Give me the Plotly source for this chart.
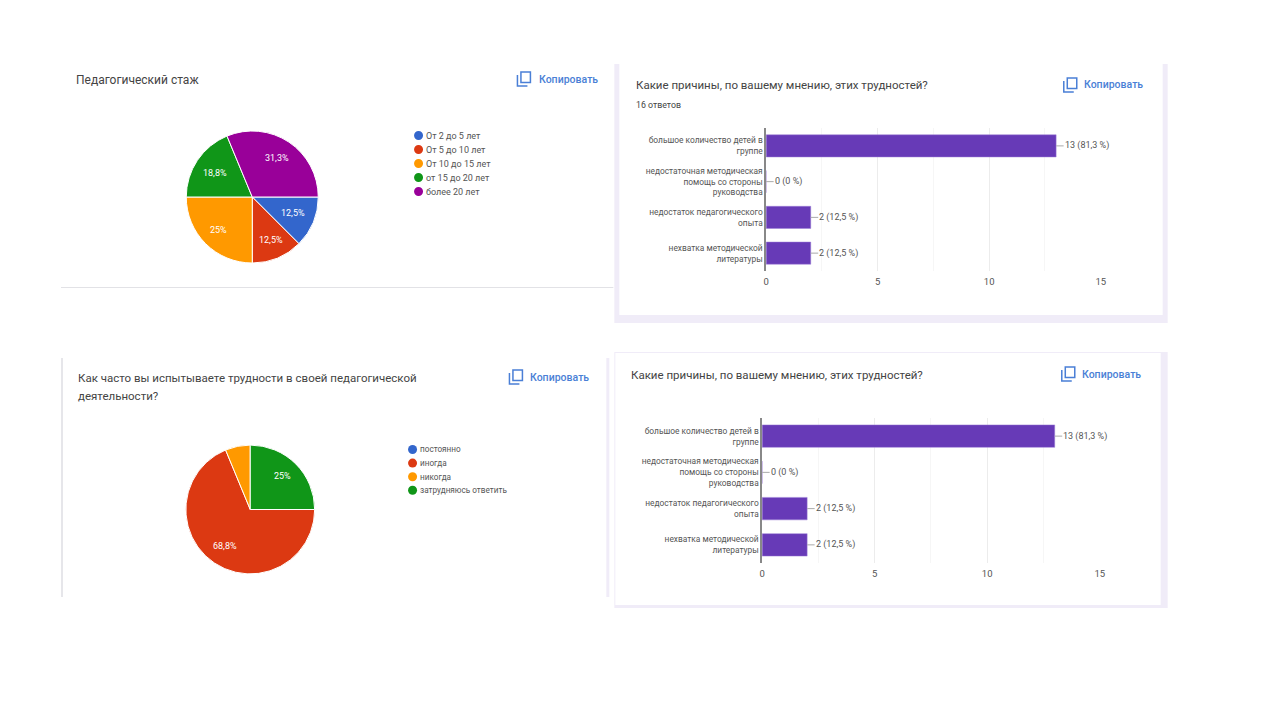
import plotly.graph_objects as go

# Pie data
stage_labels = ["От 2 до 5 лет", "От 5 до 10 лет", "От 10 до 15 лет", "от 15 до 20 лет", "более 20 лет"]
stage_values = [2, 2, 4, 3, 5]
stage_text = ["12,5%", "12,5%", "25%", "18,8%", "31,3%"]
stage_colors = ["#3366cc", "#dc3912", "#ff9900", "#109618", "#990099"]

freq_labels = ["постоянно", "иногда", "никогда", "затрудняюсь ответить"]
freq_values = [0, 11, 1, 4]
freq_text = ["", "68,8%", "", "25%"]
freq_colors = ["#3366cc", "#dc3912", "#ff9900", "#109618"]

# Bar data
reason_labels = [
    "большое количество детей в<br>группе",
    "недостаточная методическая<br>помощь со стороны<br>руководства",
    "недостаток педагогического<br>опыта",
    "нехватка методической<br>литературы",
]
reason_values = [13, 0, 2, 2]
reason_text = ["13 (81,3 %)", "0 (0 %)", "2 (12,5 %)", "2 (12,5 %)"]

# the page body keeps its 8px margin, so the figure is a bit smaller than the window
PAGE = 8
W, H = 1280 - PAGE, 720 - PAGE
FONT = "Roboto"
PURPLE = "#673ab7"
BLUE = "#4a7fd6"
LAVENDER = "#f0ecf8"


def fx(x):
    # measured against the rendered picture
    return ((x - 2) / 0.9949 - PAGE) / W


def fy(y):
    return 1 - (y - PAGE) / H


def rect(x0, y0, x1, y1, color, line=None):
    return dict(type="rect", xref="paper", yref="paper", layer="below",
                x0=fx(x0), x1=fx(x1), y0=fy(y0), y1=fy(y1),
                fillcolor=color, line=dict(width=1 if line else 0, color=line or color))


def label(x, y, text, size, color="#444444", anchor="left", family=FONT):
    # annotations pad their box, pull left aligned text back a little
    shift = -2.5 if anchor == "left" else 0
    return dict(xref="paper", yref="paper", x=fx(x + shift), y=fy(y), text=text, showarrow=False,
                xanchor=anchor, yanchor="middle", align="left",
                font=dict(size=size, color=color, family=family))


fig = go.Figure()

fig.add_trace(go.Pie(
    labels=stage_labels, values=stage_values, textinfo="none",
    sort=False, direction="clockwise", rotation=90, showlegend=False,
    marker=dict(colors=stage_colors, line=dict(color="white", width=1)),
    domain=dict(x=[fx(185), fx(318)], y=[fy(263), fy(131)]),
))
fig.add_trace(go.Pie(
    labels=freq_labels, values=freq_values, textinfo="none",
    sort=False, direction="clockwise", rotation=90, showlegend=False,
    marker=dict(colors=freq_colors, line=dict(color="white", width=1)),
    domain=dict(x=[fx(185), fx(314)], y=[fy(574), fy(445)]),
))

fig.add_trace(go.Bar(x=reason_values, y=reason_labels, orientation="h", width=0.62,
                     marker=dict(color=PURPLE, line=dict(color="#9c7fd6", width=0.5)),
                     xaxis="x", yaxis="y", showlegend=False))
fig.add_trace(go.Bar(x=reason_values, y=reason_labels, orientation="h", width=0.62,
                     marker=dict(color=PURPLE, line=dict(color="#9c7fd6", width=0.5)),
                     xaxis="x2", yaxis="y2", showlegend=False))

shapes = [
    # right hand cards
    rect(614, 64, 1168, 323, LAVENDER),
    rect(619, 64, 1163, 315, "white"),
    rect(614, 352, 1168, 608, LAVENDER),
    rect(615, 353, 1161, 605, "white"),
    # left hand card edges
    rect(60, 287, 613, 288, "#e2e2e6"),
    rect(60, 358, 62, 597, "#e6e6ea"),
    rect(606, 358, 609, 597, "#f0ecf8"),
]

annotations = [
    label(76, 80, "Педагогический стаж", 12),
    label(636, 85, "Какие причины, по вашему мнению, этих трудностей?", 11.5),
    label(636, 105, "16 ответов", 8.8),
    label(78, 378, "Как часто вы испытываете трудности в своей педагогической", 11.5),
    label(78, 396, "деятельности?", 11.5),
    label(631, 375, "Какие причины, по вашему мнению, этих трудностей?", 11.5),
]

# copy buttons
for ix, iy, tx in [(517, 72, 539), (1064, 78, 1085), (509, 370, 530), (1062, 367, 1083)]:
    shapes.append(dict(type="rect", xref="paper", yref="paper",
                       x0=fx(ix + 3.5), x1=fx(ix + 13), y0=fy(iy + 10.5), y1=fy(iy),
                       line=dict(color=BLUE, width=1.5)))
    shapes.append(dict(type="path", xref="paper", yref="paper",
                       path=f"M {fx(ix)} {fy(iy + 3)} L {fx(ix)} {fy(iy + 14)} L {fx(ix + 10)} {fy(iy + 14)}",
                       line=dict(color=BLUE, width=1.5)))
    annotations.append(label(tx, iy + 7, "Копировать", 10.5, BLUE, family="Roboto Medium, Roboto"))

# hand drawn legends (round markers, tight rows)
for names, colors, lx, ly, step, size in [(stage_labels, stage_colors, 418, 135.5, 14, 9),
                                          (freq_labels, freq_colors, 412, 449.5, 13.6, 8.2)]:
    for i, (name, color) in enumerate(zip(names, colors)):
        cy = ly + i * step
        shapes.append(dict(type="circle", xref="paper", yref="paper",
                           x0=fx(lx - 4.5), x1=fx(lx + 4.5), y0=fy(cy + 4.5), y1=fy(cy - 4.5),
                           fillcolor=color, line=dict(width=0)))
        annotations.append(label(lx + 8, cy, name, size, "#555555"))

# percent labels sit where the original chart put them, not where plotly would
stage_spots = [(292, 213), (270, 240), (218, 230), (214, 173), (276, 158)]
freq_spots = [None, (224, 546), None, (282, 476)]
for texts, spots in [(stage_text, stage_spots), (freq_text, freq_spots)]:
    for text, spot in zip(texts, spots):
        if spot:
            annotations.append(label(spot[0], spot[1], text, 9, "white", anchor="center"))

# value labels with their leader lines
for xref, yref in [("x", "y"), ("x2", "y2")]:
    for name, value, text in zip(reason_labels, reason_values, reason_text):
        annotations.append(dict(xref=xref, yref=yref, x=value, y=name, text=text,
                                showarrow=True, arrowhead=0, arrowwidth=1, arrowcolor="#aaaaaa",
                                ax=7.5, ay=0, xanchor="left", yanchor="middle", standoff=0,
                                borderpad=0, font=dict(size=9, color="#555555", family=FONT)))


def value_axis(x0, x1, y_name):
    return dict(domain=[fx(x0), fx(x1)], anchor=y_name, range=[0, 15], tickvals=[0, 5, 10, 15],
                showgrid=True, gridcolor="#ececec", gridwidth=1, zeroline=False, showline=False,
                minor=dict(dtick=2.5, showgrid=True, gridcolor="#f6f6f6", gridwidth=1),
                tickfont=dict(size=9.5, color="#555555", family=FONT), ticks="", ticklen=0,
                ticklabelstandoff=3)


def category_axis(y0, y1, x_name):
    return dict(domain=[fy(y1), fy(y0)], anchor=x_name, type="category", categoryorder="array",
                categoryarray=reason_labels, range=[3.5, -0.5], showgrid=False, zeroline=False,
                showline=True, linecolor="#888888", linewidth=1.5, ticks="",
                tickfont=dict(size=8.4, color="#555555", family=FONT))


fig.update_layout(
    width=W, height=H, autosize=False,
    margin=dict(l=0, r=0, t=0, b=0),
    paper_bgcolor="white", plot_bgcolor="rgba(0,0,0,0)",
    font=dict(family=FONT),
    shapes=shapes, annotations=annotations,
    xaxis=value_axis(766, 1101, "y"), yaxis=category_axis(128, 271, "x"),
    xaxis2=value_axis(762, 1100, "y2"), yaxis2=category_axis(418, 563, "x2"),
)

fig.write_html("out.html")
